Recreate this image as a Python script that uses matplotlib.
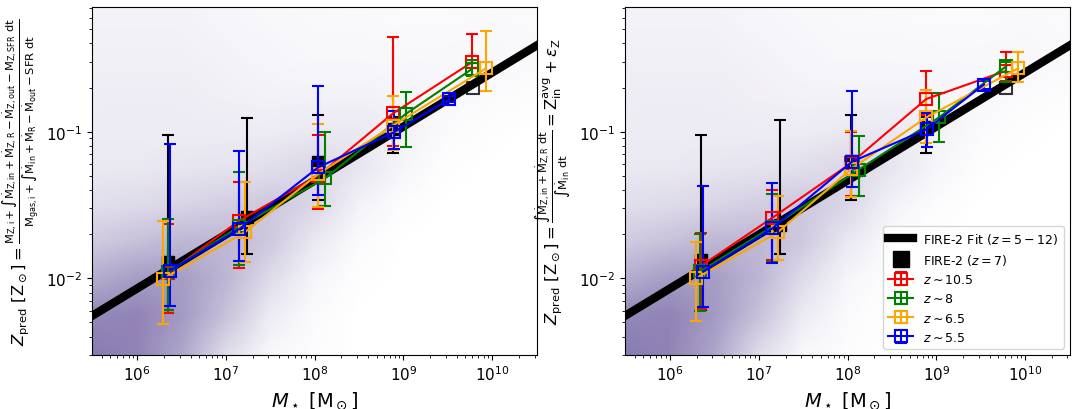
import numpy as np
import matplotlib.pyplot as plt
from matplotlib.colors import LinearSegmentedColormap
from matplotlib.lines import Line2D

# ajuste FIRE-2: log Z = a*log M + b
fit_slope = 0.368
fit_intercept = -4.277

# nuvem de fundo (densidade, de 0 a 1), passo uniforme em log
cloud_logm = [5.5, 6.0, 6.5, 7.0, 7.5, 8.0, 8.5, 9.0, 9.5, 10.0, 10.5]
cloud_logz = [-2.5, -2.25, -2.0, -1.75, -1.5, -1.25, -1.0, -0.75, -0.5, -0.25, 0.0]
cloud_dens = [
    [0.80, 0.75, 0.55, 0.22, 0.05, 0.02, 0.00, 0.00, 0.00, 0.00, 0.00],
    [0.72, 0.75, 0.62, 0.38, 0.12, 0.03, 0.00, 0.00, 0.00, 0.00, 0.00],
    [0.50, 0.60, 0.60, 0.45, 0.22, 0.06, 0.01, 0.00, 0.00, 0.00, 0.00],
    [0.32, 0.38, 0.44, 0.44, 0.33, 0.14, 0.03, 0.00, 0.00, 0.00, 0.00],
    [0.20, 0.22, 0.26, 0.30, 0.34, 0.25, 0.08, 0.02, 0.00, 0.00, 0.00],
    [0.14, 0.14, 0.16, 0.17, 0.20, 0.25, 0.16, 0.06, 0.01, 0.00, 0.00],
    [0.12, 0.12, 0.12, 0.12, 0.12, 0.14, 0.14, 0.09, 0.03, 0.01, 0.00],
    [0.11, 0.11, 0.11, 0.09, 0.08, 0.08, 0.08, 0.07, 0.05, 0.03, 0.02],
    [0.09, 0.09, 0.09, 0.08, 0.06, 0.05, 0.05, 0.05, 0.05, 0.05, 0.04],
    [0.08, 0.08, 0.08, 0.06, 0.05, 0.04, 0.04, 0.03, 0.03, 0.04, 0.03],
    [0.06, 0.06, 0.06, 0.05, 0.04, 0.03, 0.02, 0.02, 0.02, 0.02, 0.02],
]

redshifts = ['10.5', '8', '6.5', '5.5']
cores = ['red', 'green', 'orange', 'blue']

# ---- painel esquerdo ----
massa_esq = {
    '10.5': [2.25e6, 1.41e7, 1.09e8, 7.6e8, 5.9e9],
    '8':    [2.2e6, 1.42e7, 1.3e8, 1.06e9, 5.9e9],
    '6.5':  [1.95e6, 1.63e7, 1.1e8, 7.6e8, 8.5e9],
    '5.5':  [2.35e6, 1.42e7, 1.1e8, 7.8e8, 3.3e9],
}
z_esq = {
    '10.5': [0.0109, 0.0247, 0.050, 0.133, 0.297],
    '8':    [0.0110, 0.0226, 0.048, 0.132, 0.267],
    '6.5':  [0.0099, 0.0206, 0.0515, 0.110, 0.270],
    '5.5':  [0.0113, 0.0217, 0.0572, 0.099, 0.167],
}
z_esq_sup = {
    '10.5': [0.0236, 0.0456, 0.095, 0.445, 0.463],
    '8':    [0.0254, 0.0533, 0.099, 0.186, 0.310],
    '6.5':  [0.0245, 0.0452, 0.113, 0.174, 0.487],
    '5.5':  [0.083, 0.074, 0.206, 0.139, 0.175],
}
z_esq_inf = {
    '10.5': [0.00578, 0.0118, 0.0297, 0.080, 0.270],
    '8':    [0.0061, 0.0123, 0.0313, 0.079, 0.240],
    '6.5':  [0.0049, 0.0130, 0.0306, 0.075, 0.190],
    '5.5':  [0.0065, 0.0132, 0.037, 0.076, 0.160],
}
fire_massa = [2.23e6, 1.72e7, 1.09e8, 7.7e8]
fire_z_esq = [0.0130, 0.026, 0.0618, 0.105]
fire_z_esq_sup = [0.095, 0.123, 0.130, 0.126]
fire_z_esq_inf = [0.0061, 0.0147, 0.0344, 0.072]

# ponto aberto do FIRE-2 na massa mais alta
fire_aberto_massa = 6.1e9
fire_aberto_z = 0.199

# ---- painel direito ----
massa_dir = {
    '10.5': [2.25e6, 1.41e7, 1.09e8, 7.7e8, 6.1e9],
    '8':    [2.2e6, 1.42e7, 1.33e8, 1.07e9, 6.1e9],
    '6.5':  [1.95e6, 1.63e7, 1.1e8, 7.7e8, 8.3e9],
    '5.5':  [2.35e6, 1.42e7, 1.12e8, 7.8e8, 3.4e9],
}
z_dir = {
    '10.5': [0.0122, 0.0258, 0.061, 0.167, 0.260],
    '8':    [0.0112, 0.0225, 0.055, 0.125, 0.279],
    '6.5':  [0.0100, 0.0206, 0.0557, 0.125, 0.270],
    '5.5':  [0.0111, 0.0219, 0.0624, 0.104, 0.209],
}
z_dir_sup = {
    '10.5': [0.0204, 0.040, 0.099, 0.258, 0.347],
    '8':    [0.0201, 0.0376, 0.094, 0.184, 0.300],
    '6.5':  [0.0176, 0.0363, 0.1016, 0.193, 0.347],
    '5.5':  [0.0428, 0.045, 0.190, 0.135, 0.220],
}
z_dir_inf = {
    '10.5': [0.0062, 0.0133, 0.0366, 0.130, 0.220],
    '8':    [0.0060, 0.0130, 0.0366, 0.0855, 0.217],
    '6.5':  [0.00515, 0.0133, 0.036, 0.0837, 0.217],
    '5.5':  [0.00636, 0.0127, 0.042, 0.078, 0.195],
}
fire_z_dir = [0.0134, 0.0231, 0.0634, 0.107]
fire_z_dir_sup = [0.095, 0.120, 0.130, 0.125]
fire_z_dir_inf = [0.0061, 0.0147, 0.0344, 0.072]

xlim = (3.1e5, 3.2e10)
ylim = (3.0e-3, 0.708)

cor_nuvem = LinearSegmentedColormap.from_list(
    'nuvem', [(0.42, 0.36, 0.62, 0.0), (0.42, 0.36, 0.62, 1.0)])


def painel(pos, massa, z, zsup, zinf, fz, fzsup, fzinf, ylabel):
    # eixo de fundo (linear em log) para a nuvem de pontos
    bg = fig.add_axes(pos, zorder=0)
    dm = (cloud_logm[1] - cloud_logm[0]) / 2
    dz = (cloud_logz[1] - cloud_logz[0]) / 2
    bg.imshow(np.array(cloud_dens), cmap=cor_nuvem, vmin=0, vmax=1,
              origin='lower', interpolation='bilinear', aspect='auto',
              extent=[cloud_logm[0] - dm, cloud_logm[-1] + dm,
                      cloud_logz[0] - dz, cloud_logz[-1] + dz])
    bg.set_xlim(np.log10(xlim))
    bg.set_ylim(np.log10(ylim))
    bg.axis('off')

    ax = fig.add_axes(pos, zorder=1)
    ax.patch.set_alpha(0)

    # linha de ajuste
    logm = np.array([5.3, 10.7])
    ax.plot(10**logm, 10**(fit_slope*logm + fit_intercept), 'k', lw=6, zorder=2)

    # FIRE-2 z=7
    fz = np.array(fz)
    ax.errorbar(fire_massa, fz, yerr=[fz - np.array(fzinf), np.array(fzsup) - fz],
                fmt='s', color='k', ms=9, capsize=4.5, elinewidth=1.5,
                capthick=1.5, zorder=3)
    ax.plot([fire_aberto_massa], [fire_aberto_z], 's', mfc='none', mec='k',
            ms=9, mew=1.5, alpha=0.8, zorder=3)

    for zr, c in zip(redshifts, cores):
        v = np.array(z[zr])
        ax.errorbar(massa[zr], v,
                    yerr=[v - np.array(zinf[zr]), np.array(zsup[zr]) - v],
                    fmt='s-', color=c, mfc='none', ms=9, mew=1.5, lw=1.5,
                    capsize=4.5, capthick=1.5, zorder=4,
                    label=r'$z\sim$' + zr)

    ax.set_xscale('log')
    ax.set_yscale('log')
    ax.set_xlim(xlim)
    ax.set_ylim(ylim)
    ax.set_xlabel(r'$M_\star\ [{\rm M}_\odot]$', fontsize=14)
    ax.set_ylabel(ylabel, fontsize=11.8)
    ax.tick_params(labelsize=11)
    return ax


fig = plt.figure(figsize=(10.79, 4.10), dpi=100)

ylab_esq = (r'$Z_{\rm pred}\ [{\rm Z}_\odot] = '
            r'\frac{{\rm M}_{\rm Z,i} + \int \dot{\rm M}_{\rm Z,in} + \dot{\rm M}_{\rm Z,R}'
            r' - \dot{\rm M}_{\rm Z,out} - {\rm M}_{\rm Z,SFR}\ {\rm dt}}'
            r'{{\rm M}_{\rm gas,i} + \int \dot{\rm M}_{\rm in} + \dot{\rm M}_{\rm R}'
            r' - \dot{\rm M}_{\rm out} - {\rm SFR}\ {\rm dt}}$')
ylab_dir = (r'$Z_{\rm pred}\ [{\rm Z}_\odot] = '
            r'\frac{\int \dot{\rm M}_{\rm Z,in} + \dot{\rm M}_{\rm Z,R}\ {\rm dt}}'
            r'{\int \dot{\rm M}_{\rm in}\ {\rm dt}} = {\rm Z}_{\rm in}^{\rm avg} + \epsilon_{\rm Z}$')

ax1 = painel([0.0853, 0.1317, 0.4124, 0.8488], massa_esq, z_esq, z_esq_sup, z_esq_inf,
             fire_z_esq, fire_z_esq_sup, fire_z_esq_inf, ylab_esq)
ax2 = painel([0.5792, 0.1317, 0.4124, 0.8488], massa_dir, z_dir, z_dir_sup, z_dir_inf,
             fire_z_dir, fire_z_dir_sup, fire_z_dir_inf, ylab_dir)

# legenda
h, l = ax2.get_legend_handles_labels()
h_fit = Line2D([], [], color='k', lw=6)
h_fire = Line2D([], [], color='k', marker='s', ms=12, ls='none')
ax2.legend([h_fit, h_fire] + h, [r'FIRE-2 Fit ($z=5-12$)', r'FIRE-2 ($z=7$)'] + l,
           loc='lower right', fontsize=9)

fig.savefig('out.png', dpi=100)
